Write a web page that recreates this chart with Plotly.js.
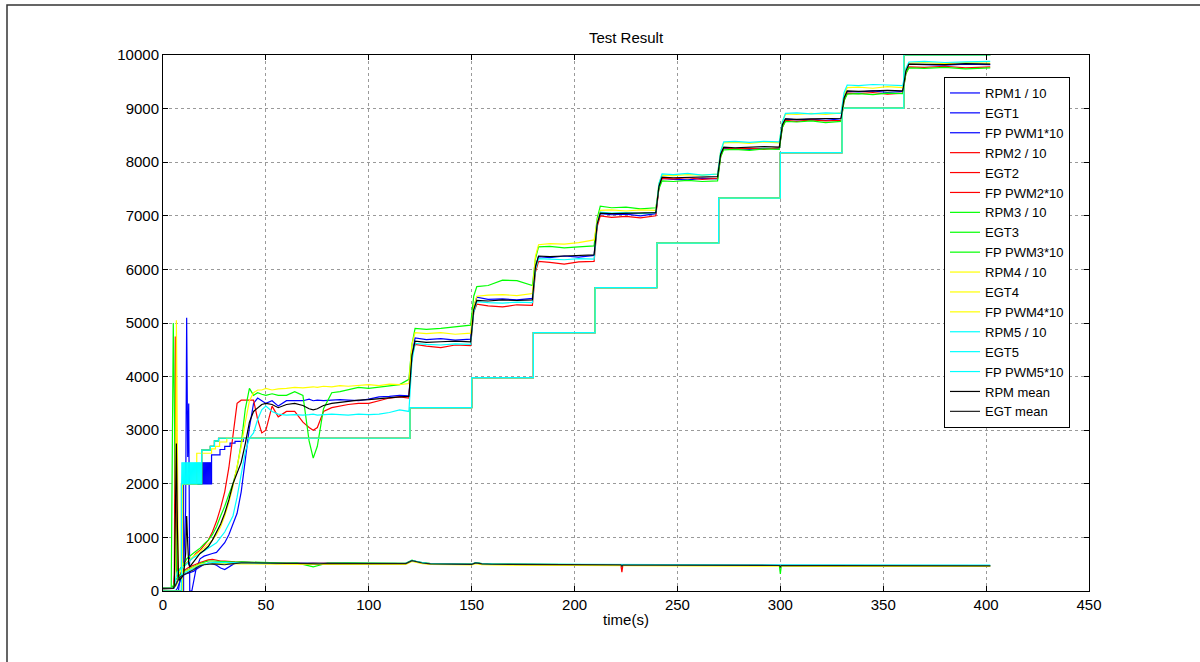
<!DOCTYPE html>
<html><head><meta charset="utf-8">
<script src="https://cdn.plot.ly/plotly-3.0.1.min.js"></script>
<style>body{margin:0;background:#fff}#chart{width:1200px;height:662px}</style>
</head><body><div id="chart"></div>
<script>
// time base for RPM series (s)
const tRpm = [0,4,5,5.5,6,6.5,7,7.5,8,9,
10,11,11.5,12,12.5,13,14,16,18,20,
22,24,26,28,30,32,34,36,38,40,
42,44,46,48,50,53,56,60,64,68,
71,73,75,78,82,86,90,95,100,105,
110,115,119.5,
121,122.5,128,135,142,149.5,
151,152.5,158,165,172,179.5,
181,182.5,188,195,202,209.5,
211,212.5,218,225,232,239.5,
241,242.5,248,255,262,269.5,
271,272.5,278,285,292,299.5,
301,302.5,308,315,322,329.5,
331,332.5,338,345,352,359.5,
361,362.5,370,380,390,402];

const rpm1 = [0,0,0,0,0,0,0,0,150,300,
450,1500,5100,2500,3500,0,0,400,600,650,
680,700,720,800,900,1050,1250,1450,1850,2500,
3050,3500,3600,3550,3500,3550,3450,3550,3550,3550,
3580,3550,3560,3550,3560,3570,3560,3550,3580,3620,
3630,3650,3640,
4400,4720,4690,4710,4680,4700,
5300,5480,5440,5450,5430,5460,
6050,6240,6220,6250,6230,6260,
6850,7040,7020,7030,7000,7040,
7550,7700,7680,7670,7700,7690,
8150,8260,8250,8240,8260,8250,
8700,8810,8790,8800,8780,8810,
9200,9320,9310,9330,9300,9320,
9700,9830,9820,9810,9830,9820];

const rpm2 = [50,50,50,300,4750,1500,300,200,250,350,
450,500,520,550,560,580,600,700,760,850,
950,1100,1300,1550,1850,2300,2900,3500,3560,3560,
3560,3560,3200,2950,3000,3450,3250,3350,3350,3150,
3050,3000,3050,3350,3420,3450,3480,3500,3500,3550,
3600,3620,3600,
4400,4600,4570,4540,4590,4580,
5200,5350,5320,5300,5340,5330,
5950,6150,6130,6100,6140,6150,
6800,7000,6970,6990,6960,7000,
7520,7700,7690,7710,7680,7700,
8100,8270,8250,8260,8240,8270,
8650,8780,8760,8790,8770,8780,
9150,9290,9280,9300,9270,9290,
9650,9780,9770,9790,9760,9780];

const rpm3 = [50,50,5000,3000,1500,400,300,350,400,450,
500,560,600,620,640,660,680,740,800,880,
950,1050,1200,1400,1580,1800,2000,2300,2750,3400,
3780,3650,3700,3670,3650,3680,3650,3650,3720,3650,
2800,2480,2700,3400,3700,3720,3750,3800,3780,3800,
3820,3850,3950,
4600,4900,4880,4900,4930,4960,
5500,5680,5700,5800,5790,5700,
6200,6420,6430,6400,6420,6440,
6950,7180,7150,7160,7130,7150,
7500,7650,7640,7660,7640,7650,
8100,8230,8240,8220,8250,8240,
8650,8760,8750,8770,8740,8760,
9150,9270,9280,9260,9290,9280,
9650,9760,9750,9770,9740,9760];

const rpm4 = [50,50,50,100,500,5050,1500,300,350,400,
450,500,520,540,560,580,620,680,740,800,
880,950,1050,1200,1400,1650,1950,2300,2700,3150,
3550,3700,3750,3750,3780,3750,3770,3780,3800,3790,
3800,3810,3800,3820,3810,3830,3820,3840,3850,3830,
3860,3850,3870,
4600,4820,4800,4820,4790,4810,
5300,5500,5520,5530,5510,5550,
6250,6460,6480,6470,6500,6550,
6900,7100,7110,7090,7110,7100,
7600,7760,7750,7770,7760,7780,
8200,8360,8370,8350,8380,8360,
8750,8900,8890,8910,8890,8920,
9250,9390,9400,9380,9410,9390,
9700,9850,9860,9840,9860,9850];

const rpm5 = [50,50,50,50,200,300,350,380,400,420,
450,480,500,520,540,560,600,650,700,750,
800,850,900,1000,1100,1250,1400,1750,2200,2600,
2850,2950,3200,3380,3450,3350,3300,3280,3290,3280,
3290,3300,3280,3290,3300,3290,3280,3300,3290,3300,
3330,3380,3350,
4300,4620,4600,4590,4610,4600,
5200,5400,5380,5370,5390,5380,
6000,6200,6190,6180,6200,6190,
6850,7070,7050,7060,7040,7060,
7600,7780,7770,7790,7760,7780,
8200,8380,8390,8370,8390,8380,
8750,8910,8920,8900,8920,8910,
9300,9440,9430,9450,9440,9430,
9750,9870,9880,9860,9870,9880];

const rpmMean = [50,50,50,100,1500,2750,1200,300,200,250,
300,700,1400,900,500,450,500,620,700,760,
830,950,1100,1250,1450,1700,2000,2200,2400,2750,
3150,3350,3420,3480,3500,3480,3420,3480,3500,3460,
3400,3380,3400,3460,3500,3520,3530,3560,3570,3590,
3600,3620,3630,
4400,4660,4640,4650,4660,4650,
5250,5420,5410,5430,5420,5430,
6050,6250,6240,6250,6260,6270,
6850,7050,7040,7050,7050,7060,
7550,7720,7710,7720,7730,7730,
8150,8280,8270,8280,8290,8280,
8700,8810,8800,8810,8810,8820,
9200,9330,9320,9330,9340,9330,
9700,9830,9830,9820,9840,9830];

// time base for EGT series (s)
const tEgt = [0,4,5,6,7,8,9,10,11,12,
13,14,15,16,18,20,22,24,26,28,
30,32,35,38,42,46,50,55,60,65,
70,73,76,80,90,100,110,118,121,123,
126,130,140,150,152,155,160,180,200,220,
222.5,223,223.5,240,260,280,299.5,300,300.5,320,
340,360,380,402];

const egt1 = [0,0,0,0,50,150,250,300,320,330,
340,350,370,400,450,500,520,510,480,430,
400,450,520,540,530,520,520,510,515,520,
515,520,515,518,515,512,515,510,560,540,
520,505,500,498,525,505,498,492,488,485,
485,485,485,482,480,478,476,476,476,474,
473,472,471,470];
const egt2 = [50,50,50,100,200,300,350,380,400,430,
450,470,480,500,530,560,580,590,570,560,
560,550,545,540,540,530,525,520,525,520,
515,520,518,515,520,515,518,515,565,545,
525,510,502,500,528,508,500,495,490,488,
488,350,487,484,482,480,478,478,478,476,
475,474,473,472];
const egt3 = [50,50,100,200,250,300,330,360,380,400,
420,440,460,480,510,540,560,560,555,550,
545,540,540,545,540,535,530,525,520,525,
470,450,480,520,525,520,522,518,575,550,
528,512,503,500,530,510,502,496,490,486,
486,486,485,480,478,476,476,320,476,474,
472,470,470,468];
const egt4 = [50,50,50,80,150,250,300,340,370,390,
410,430,450,470,500,510,515,520,525,520,
515,510,505,505,508,505,500,500,502,500,
498,500,498,500,498,495,497,495,550,530,
510,495,488,485,510,492,485,480,476,472,
472,472,471,468,466,464,462,462,462,460,
460,458,458,457];
const egt5 = [50,50,50,100,180,260,300,330,350,370,
390,410,430,450,480,500,520,530,535,535,
530,530,525,525,525,520,520,518,520,518,
515,518,515,518,520,518,520,518,570,548,
528,512,505,503,530,512,505,500,497,495,
495,495,494,492,490,488,487,487,487,486,
485,485,484,484];
const egtMean = [40,40,50,100,180,250,280,300,310,330,
350,380,400,430,470,490,500,505,500,495,
490,500,515,525,525,520,518,515,516,515,
505,500,505,515,515,513,515,512,565,543,
522,507,500,498,525,506,499,494,489,486,
486,462,485,482,480,477,476,450,476,474,
473,472,471,470];

// FP PWM step commands (x10)
const tPwm1 = [0,10,18.8,23.6,27.7,30,32.6,35,39,120,150,180,210,240,270,300,330,360,402];
const pwm1  = [0,2000,2000,2540,2640,2700,2760,2790,2850,3420,3980,4820,5660,6490,7330,8180,9010,10000,10000];
const tPwm4 = [0,9.5,16.4,23.6,25.5,27.5,31,120,150,180,210,240,270,300,330,360,402];
const pwm4  = [0,2000,2570,2650,2700,2780,2850,3420,3980,4820,5660,6490,7330,8180,9010,10000,10000];
const tPwm5 = [0,9,18.8,23,25,27,120,150,180,210,240,270,300,330,360,402];
const pwm5  = [0,2000,2630,2700,2800,2850,3420,3980,4820,5660,6490,7330,8180,9010,10000,10000];
const pwm2 = [0,2000,2630,2700,2800,2850,3420,3980,4820,5660,6490,7330,8180,9010,10000,10000];
const pwm3 = [0,2000,2630,2700,2800,2850,3420,3980,4820,5660,6490,7330,8180,9010,10000,10000];
// early PWM dithering between 2000 and 2400 (sampled every 0.25 s)
const pwm5Dither = [2000,2400,2000,2400,2000,2400,2000,2400,2000,2400,
2000,2400,2000,2400,2000,2400,2000,2400,2000,2400,
2000,2400,2000,2400,2000,2400,2000,2400,2000,2400,
2000,2400,2000,2400,2000,2400,2000,2400,2000,2400];
const pwm1Dither = [2000,2400,2000,2400,2000,2400,2000,2400,2000,2400,
2000,2400,2000,2400,2000,2400,2000,2400,2000,2400];

const names = ['RPM1 / 10','EGT1','FP PWM1*10','RPM2 / 10','EGT2','FP PWM2*10','RPM3 / 10','EGT3','FP PWM3*10',
'RPM4 / 10','EGT4','FP PWM4*10','RPM5 / 10','EGT5','FP PWM5*10','RPM mean','EGT mean'];
const colors = ['#0000ff','#ff0000','#00ff00','#ffff00','#00ffff','#000000'];

const W = 1.2;
function ln(x,y,name,color,extra){
  return Object.assign({type:'scatter',mode:'lines',x:x,y:y,name:name,
    line:{color:color,width:W},hoverinfo:'skip'},extra||{});
}
const traces = [
  ln(tRpm,rpm1,names[0],colors[0]),
  ln(tEgt,egt1,names[1],colors[0]),
  ln(tPwm1,pwm1,names[2],colors[0],{line:{color:colors[0],width:W,shape:'hv'}}),
  {type:'scatter',mode:'lines',x0:18.8,dx:0.25,y:pwm1Dither,showlegend:false,line:{color:colors[0],width:1},hoverinfo:'skip'},
  ln(tRpm,rpm2,names[3],colors[1]),
  ln(tEgt,egt2,names[4],colors[1]),
  ln(tPwm5,pwm2,names[5],colors[1],{line:{color:colors[1],width:W,shape:'hv'}}),
  ln(tRpm,rpm3,names[6],colors[2]),
  ln(tEgt,egt3,names[7],colors[2]),
  ln(tPwm5,pwm3,names[8],colors[2],{line:{color:colors[2],width:W,shape:'hv'}}),
  ln(tRpm,rpm4,names[9],colors[3]),
  ln(tEgt,egt4,names[10],colors[3]),
  ln(tPwm4,pwm4,names[11],colors[3],{line:{color:colors[3],width:W,shape:'hv'}}),
  ln(tRpm,rpm5,names[12],colors[4]),
  ln(tEgt,egt5,names[13],colors[4]),
  ln(tPwm5,pwm5,names[14],colors[4],{line:{color:colors[4],width:W,shape:'hv'}}),
  {type:'scatter',mode:'lines',x0:9,dx:0.25,y:pwm5Dither,showlegend:false,line:{color:colors[4],width:1},hoverinfo:'skip'},
  ln(tRpm,rpmMean,names[15],colors[5]),
  ln(tEgt,egtMean,names[16],'#202020')
];

const F = 'Liberation Sans, Arial, sans-serif';
const axisCommon = {
  showline:true, linecolor:'#000', linewidth:1, mirror:'ticks',
  ticks:'inside', ticklen:5, tickcolor:'#000', tickwidth:1,
  showgrid:true, gridcolor:'#9a9a9a', griddash:'dot', gridwidth:1,
  zeroline:false, tickfont:{family:F,size:15,color:'#000'}, fixedrange:true,
  tickformat:'d', exponentformat:'none', separatethousands:false
};
const layout = {
  width:1200, height:662,
  margin:{l:163, r:111, t:55, b:71},
  paper_bgcolor:'#fff', plot_bgcolor:'#fff',
  font:{family:F,size:15,color:'#000'},
  title:{text:'Test Result', font:{family:F,size:15,color:'#000'}, xref:'paper', x:0.5, xanchor:'center', y:1-38/662, yanchor:'middle'},
  xaxis:Object.assign({}, axisCommon, {range:[0,450], tick0:0, dtick:50,
    title:{text:'time(s)', font:{family:F,size:15,color:'#000'}, standoff:2}}),
  yaxis:Object.assign({}, axisCommon, {range:[0,10000], tick0:0, dtick:1000}),
  showlegend:true,
  legend:{x:(944-163)/926, y:(591-77)/536, xanchor:'left', yanchor:'top',
    bgcolor:'#fff', bordercolor:'#000', borderwidth:1,
    font:{family:F,size:13,color:'#000'}, tracegroupgap:0, itemwidth:30},
  shapes:[{type:'rect', xref:'paper', yref:'paper',
    x0:(7-163)/926, x1:(1215-163)/926, y0:(591-675)/536, y1:(591-5)/536,
    line:{color:'#333', width:1.5}, fillcolor:'rgba(0,0,0,0)', layer:'above'}]
};
Plotly.newPlot('chart', traces, layout, {staticPlot:true, displayModeBar:false});
</script>
</body></html>
